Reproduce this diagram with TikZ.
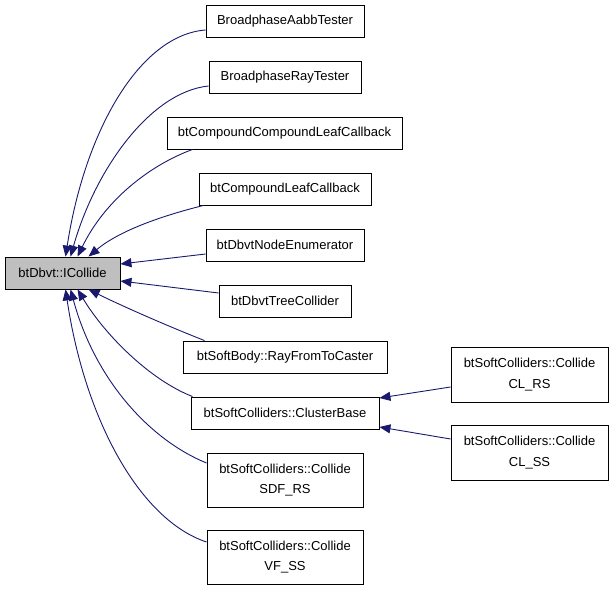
\documentclass[tikz,border=0pt]{standalone}
\usepackage{fontspec}
\setmainfont{Liberation Sans}
\usetikzlibrary{arrows.meta}
\definecolor{edgeblue}{HTML}{191970}
\definecolor{basegray}{HTML}{BFBFBF}
\begin{document}
\begin{tikzpicture}[x=1pt,y=-1pt,
  box/.style={draw=black, line width=0.9pt, fill=white, inner sep=0pt,
    minimum height=32pt, align=center, font=\fontsize{13}{20.5}\selectfont},
  twoline/.style={box, minimum height=54pt},
  inh/.style={draw=edgeblue, line width=0.9pt, -{Triangle[length=11pt,width=9pt]}}]
\useasboundingbox[fill=white] (0,0) rectangle (613,589);
% nodes
\node[box, fill=basegray, minimum width=115pt] (ic) at (62.5,273) {btDbvt::ICollide};
\node[box, minimum width=158pt] (aabb) at (285,21) {BroadphaseAabbTester};
\node[box, minimum width=152pt] (ray) at (285,77) {BroadphaseRayTester};
\node[box, minimum width=235pt] (ccl) at (284.5,133) {btCompoundCompoundLeafCallback};
\node[box, minimum width=172pt] (cl) at (285,189) {btCompoundLeafCallback};
\node[box, minimum width=158pt] (ne) at (285,245) {btDbvtNodeEnumerator};
\node[box, minimum width=132pt] (tc) at (285,301) {btDbvtTreeCollider};
\node[box, minimum width=204pt] (rfc) at (285,357) {btSoftBody::RayFromToCaster};
\node[box, minimum width=188pt] (cb) at (285,413) {btSoftColliders::ClusterBase};
\node[twoline, minimum width=156pt] (sdf) at (285,480) {btSoftColliders::Collide\\SDF\_RS};
\node[twoline, minimum width=156pt] (vf) at (285,557) {btSoftColliders::Collide\\VF\_SS};
\node[twoline, minimum width=157pt, minimum height=55pt] (clrs) at (529.5,374.5) {btSoftColliders::Collide\\CL\_RS};
\node[twoline, minimum width=157pt, minimum height=55pt] (clss) at (529.5,452.5) {btSoftColliders::Collide\\CL\_SS};
% edges
\draw[inh] ([yshift=-9pt]aabb.west) .. controls (140,35) and (85,130) .. ([xshift=61pt]ic.north west);
\draw[inh] ([yshift=-9pt]ray.west) .. controls (150,92) and (95,170) .. ([xshift=66pt]ic.north west);
\draw[inh] ([xshift=26pt]ccl.south west) .. controls (150,165) and (105,200) .. ([xshift=73pt]ic.north west);
\draw[inh] ([xshift=5pt]cl.south west) .. controls (165,215) and (120,230) .. ([xshift=84pt]ic.north west);
\draw[inh] ([yshift=-9pt]ne.west) -- ([yshift=9pt]ic.east);
\draw[inh] ([yshift=8pt]tc.west) -- ([yshift=-8pt]ic.east);
\draw[inh] ([xshift=22pt]rfc.north west) .. controls (165,325) and (120,305) .. ([xshift=84pt]ic.south west);
\draw[inh] ([xshift=2pt]cb.north west) .. controls (150,380) and (105,335) .. ([xshift=73pt]ic.south west);
\draw[inh] ([yshift=17pt]sdf.west) .. controls (150,440) and (95,380) .. ([xshift=66pt]ic.south west);
\draw[inh] ([yshift=15pt]vf.west) .. controls (140,520) and (85,420) .. ([xshift=61pt]ic.south west);
\draw[inh] ([yshift=-12.5pt]clrs.west) -- ([yshift=15pt]cb.east);
\draw[inh] ([yshift=13.5pt]clss.west) -- ([yshift=-14pt]cb.east);
\end{tikzpicture}
\end{document}
